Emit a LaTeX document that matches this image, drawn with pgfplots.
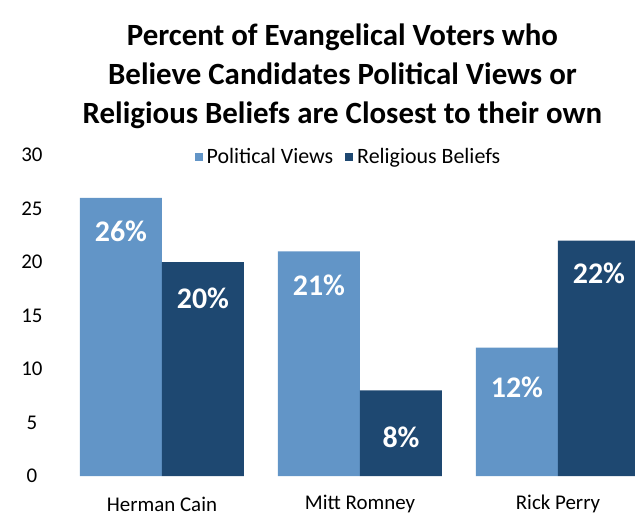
\documentclass[border=0pt]{standalone}
\usepackage{fontspec}
\setmainfont{Carlito}
\usepackage{pgfplots}
\pgfplotsset{compat=1.18}
\definecolor{lightb}{RGB}{98,149,199}
\definecolor{darkb}{RGB}{30,72,113}
\begin{document}
\begin{tikzpicture}
\begin{axis}[
  scale only axis,
  width=573bp, height=321bp,
  xmin=-0.505, xmax=2.389,
  ymin=0, ymax=30,
  ytick={0,5,...,30},
  xtick={0,1,2},
  xticklabels={Herman Cain, Mitt Romney, Rick Perry},
  axis line style={draw=none},
  major tick length=0pt,
  /pgf/number format/assume math mode=true,
  tick label style={font=\fontsize{21}{25}\selectfont, color=black},
  yticklabel style={anchor=center, xshift=-30bp},
  xticklabel style={anchor=center, yshift=-28bp},
  ybar, bar width=82bp,
  title={Percent of Evangelical Voters who\\[4bp]Believe Candidates Political Views or\\[4bp]Religious Beliefs are Closest to their own},
  title style={font=\bfseries\fontsize{31}{35}\selectfont, align=center, anchor=center, at={(axis description cs:0.4895,1.227)}},
  legend style={draw=none, at={(axis description cs:0.226,0.994)}, anchor=west, legend columns=2, font=\fontsize{22}{26}\selectfont, /tikz/every even column/.append style={column sep=10bp}},
  legend image code/.code={\fill[#1] (0bp,-4bp) rectangle (8bp,4bp); \path (10bp,0bp);},
  nodes near coords={\pgfmathprintnumber{\pgfplotspointmeta}\%},
  visualization depends on={\thisrow{off}\as\off},
  every node near coord/.append style={font=\bfseries\fontsize{30}{36}\selectfont, color=white, anchor=center, yshift=-\off bp},
]
\addplot[fill=lightb, draw=none, bar shift=-41bp] table {
x y off
0 26 33
1 21 34
2 12 40
};
\addplot[fill=darkb, draw=none, bar shift=41bp] table {
x y off
0 20 36
1 8 47
2 22 33
};
\legend{Political Views, Religious Beliefs}
\coordinate (bl) at (axis cs:-0.818,-3.74);
\coordinate (tr) at (axis cs:2.389,44.49);
\end{axis}
\pgfresetboundingbox
\path[use as bounding box] (bl) rectangle (tr);
\end{tikzpicture}
\end{document}
